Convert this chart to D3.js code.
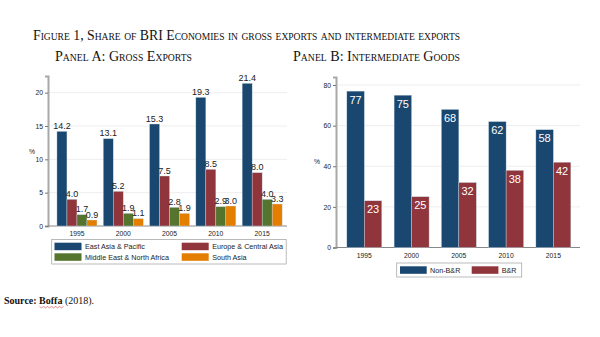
<!DOCTYPE html>
<html><head><meta charset="utf-8">
<script src="https://cdn.jsdelivr.net/npm/d3@7"></script>
<style>body{margin:0;background:#fff}svg{display:block}</style>
</head><body>
<script>
const years = ["1995","2000","2005","2010","2015"];
const seriesA = ["East Asia & Pacific","Europe & Central Asia","Middle East & North Africa","South Asia"];
const eastAsia = [14.2,13.1,15.3,19.3,21.4];
const europeCA = [4.0,5.2,7.5,8.5,8.0];
const mena = [1.7,1.9,2.8,2.9,4.0];
const southAsia = [0.9,1.1,1.9,3.0,3.3];
const ticksA = [0,5,10,15,20];
const seriesB = ["Non-B&R","B&R"];
const nonBR = [77,75,68,62,58];
const br = [23,25,32,38,42];
const ticksB = [0,20,40,60,80];

const colorsA = ["#1a476f","#90353b","#55752f","#e37e00"];
const colorsB = ["#1a476f","#90353b"];
const valsA = [eastAsia, europeCA, mena, southAsia];
const valsB = [nonBR, br];

const svg = d3.select("body").append("svg").attr("width",600).attr("height",337);
const serif = "'Liberation Serif','Times New Roman',serif";
const sans = "'Liberation Sans',Arial,sans-serif";
const tickFs = 6.8;

svg.append("text").attr("x",33).attr("y",39.5).attr("font-family",serif).attr("font-size",14.5)
  .style("font-variant","small-caps").attr("fill","#111")
  .attr("textLength",427).attr("lengthAdjust","spacingAndGlyphs")
  .text("Figure 1, Share of BRI Economies in gross exports and intermediate exports");
svg.append("text").attr("x",55).attr("y",61).attr("font-family",serif).attr("font-size",14.5)
  .style("font-variant","small-caps").attr("fill","#111")
  .attr("textLength",137).attr("lengthAdjust","spacingAndGlyphs")
  .text("Panel A: Gross Exports");
svg.append("text").attr("x",293).attr("y",61).attr("font-family",serif).attr("font-size",14.5)
  .style("font-variant","small-caps").attr("fill","#111")
  .attr("textLength",167).attr("lengthAdjust","spacingAndGlyphs")
  .text("Panel B: Intermediate Goods");

// ---------- Panel A ----------
const xA = d3.scaleBand().domain(years).range([53.8,285.3]).paddingInner(0.136).paddingOuter(0.068);
const xAi = d3.scaleBand().domain(d3.range(4)).range([0,xA.bandwidth()]);
const yA = d3.scaleLinear().domain([0,22.5]).range([226,76]);
const gA = svg.append("g");
gA.selectAll("line.grid").data(ticksA.slice(1)).join("line")
  .attr("x1",49).attr("x2",287).attr("y1",d=>yA(d)).attr("y2",d=>yA(d))
  .attr("stroke","#eeeeee").attr("stroke-width",1);
const axA = gA.append("g").attr("transform","translate(48,0)")
  .call(d3.axisLeft(yA).tickValues(ticksA).tickSize(3).tickPadding(2));
axA.select(".domain").attr("stroke","#a8a8a8").attr("stroke-width",2);
axA.selectAll(".tick line").attr("stroke","#777");
axA.selectAll(".tick text").attr("font-family",sans).attr("font-size",tickFs).attr("fill","#222");
gA.append("line").attr("x1",48).attr("x2",287).attr("y1",226).attr("y2",226).attr("stroke","#888").attr("stroke-width",1);
gA.append("text").attr("x",29).attr("y",154).attr("font-family",sans).attr("font-size",tickFs).attr("fill","#222").text("%");
gA.selectAll("text.yr").data(years).join("text").attr("class","yr")
  .attr("x",d=>xA(d)+xA.bandwidth()/2).attr("y",236).attr("text-anchor","middle")
  .attr("font-family",sans).attr("font-size",tickFs).attr("fill","#222").text(d=>d);
valsA.forEach((arr,si)=>{
  const g = gA.append("g");
  g.selectAll("rect").data(arr).join("rect")
    .attr("x",(d,i)=>xA(years[i])+xAi(si)).attr("width",xAi.bandwidth())
    .attr("y",d=>yA(d)).attr("height",d=>yA(0)-yA(d))
    .attr("fill",colorsA[si]).attr("stroke","#c9dbe8").attr("stroke-width",0.4);
  g.selectAll("text").data(arr).join("text")
    .attr("x",(d,i)=>xA(years[i])+xAi(si)+xAi.bandwidth()/2).attr("y",d=>yA(d)-2.5)
    .attr("text-anchor","middle").attr("font-family",sans).attr("font-size",9).attr("fill","#222")
    .text(d=>d.toFixed(1));
});
// legend A
const lgA = svg.append("g");
lgA.append("rect").attr("x",51.7).attr("y",239.5).attr("width",234.5).attr("height",24.5)
  .attr("fill","#fff").attr("stroke","#aaa").attr("stroke-width",0.8);
const legPosA = [[54.5,242.7],[181.7,242.7],[54.5,253.3],[181.7,253.3]];
seriesA.forEach((s,i)=>{
  const [lx,ly]=legPosA[i];
  lgA.append("rect").attr("x",lx).attr("y",ly).attr("width",27).attr("height",7.5).attr("fill",colorsA[i]);
  lgA.append("text").attr("x",lx+30.5).attr("y",ly+6.3).attr("font-family",sans).attr("font-size",7.2).attr("fill","#222").text(s);
});

// ---------- Panel B ----------
const xB = d3.scaleBand().domain(years).range([340.7,577]).paddingInner(0.26).paddingOuter(0.13);
const xBi = d3.scaleBand().domain(d3.range(2)).range([0,xB.bandwidth()]);
const yB = d3.scaleLinear().domain([0,84]).range([247.5,76.9]);
const gB = svg.append("g");
gB.selectAll("line.grid").data(ticksB.slice(1)).join("line")
  .attr("x1",337).attr("x2",580).attr("y1",d=>yB(d)).attr("y2",d=>yB(d))
  .attr("stroke","#eeeeee").attr("stroke-width",1);
const axB = gB.append("g").attr("transform","translate(336,0)")
  .call(d3.axisLeft(yB).tickValues(ticksB).tickSize(3).tickPadding(2));
axB.select(".domain").attr("stroke","#a8a8a8").attr("stroke-width",2);
axB.selectAll(".tick line").attr("stroke","#777");
axB.selectAll(".tick text").attr("font-family",sans).attr("font-size",tickFs).attr("fill","#222");
gB.append("line").attr("x1",336).attr("x2",580).attr("y1",247.5).attr("y2",247.5).attr("stroke","#888").attr("stroke-width",1);
gB.append("text").attr("x",314).attr("y",164).attr("font-family",sans).attr("font-size",tickFs).attr("fill","#222").text("%");
gB.selectAll("text.yr").data(years).join("text").attr("class","yr")
  .attr("x",d=>xB(d)+xB.bandwidth()/2).attr("y",257.5).attr("text-anchor","middle")
  .attr("font-family",sans).attr("font-size",tickFs).attr("fill","#222").text(d=>d);
valsB.forEach((arr,si)=>{
  const g = gB.append("g");
  g.selectAll("rect").data(arr).join("rect")
    .attr("x",(d,i)=>xB(years[i])+xBi(si)).attr("width",xBi.bandwidth())
    .attr("y",d=>yB(d)).attr("height",d=>yB(0)-yB(d))
    .attr("fill",colorsB[si]).attr("stroke","#c9dbe8").attr("stroke-width",0.4);
  g.selectAll("text").data(arr).join("text")
    .attr("x",(d,i)=>xB(years[i])+xBi(si)+xBi.bandwidth()/2).attr("y",d=>yB(d)+12.5)
    .attr("text-anchor","middle").attr("font-family",sans).attr("font-size",11).attr("fill","#fff")
    .text(d=>d);
});
// legend B
const lgB = svg.append("g");
lgB.append("rect").attr("x",396.7).attr("y",263).attr("width",125).attr("height",14)
  .attr("fill","#fff").attr("stroke","#aaa").attr("stroke-width",0.8);
const legPosB = [[400,266.3],[471.7,266.3]];
seriesB.forEach((s,i)=>{
  const [lx,ly]=legPosB[i];
  lgB.append("rect").attr("x",lx).attr("y",ly).attr("width",26.7).attr("height",7.5).attr("fill",colorsB[i]);
  lgB.append("text").attr("x",lx+30).attr("y",ly+6.3).attr("font-family",sans).attr("font-size",7.2).attr("fill","#222").text(s);
});

// source
const src = svg.append("text").attr("x",4).attr("y",304).attr("font-family",serif).attr("font-size",10).attr("fill","#111");
src.append("tspan").attr("font-weight","bold").text("Source: ");
src.append("tspan").attr("font-weight","bold").text("Boffa");
src.append("tspan").text(" (2018).");
// spell-check squiggle under "Boffa"
svg.append("path").attr("d",d3.range(12).reduce((s,k)=>s+` L${39.5+2*(k+1)},${k%2?306.5:307.8}`,"M39.5,306.5"))
  .attr("fill","none").attr("stroke","#d04040").attr("stroke-width",0.6);
</script>
</body></html>
